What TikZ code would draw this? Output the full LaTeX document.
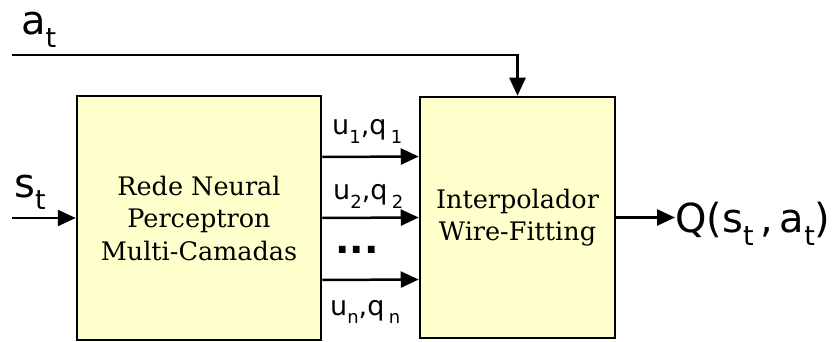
\documentclass[tikz,border=0pt]{standalone}
\usepackage{fontspec}
\usepackage{tikz}
\usetikzlibrary{arrows.meta,positioning,calc}
\newfontfamily\boxfont{DejaVu Serif}
\newfontfamily\lblfont{DejaVu Sans}
\definecolor{boxyellow}{RGB}{255,255,204}
\newcommand{\lsub}[2][27]{\raisebox{-.32em}{\fontsize{#1}{#1}\selectfont #2}}
\tikzset{
  block/.style={rectangle, draw=black, line width=2.5pt, fill=boxyellow, align=center, inner sep=0pt, font=\boxfont\fontsize{25.5}{32.5}\selectfont},
  flow/.style={line width=2.5pt, -{Triangle[length=18pt,width=16pt]}},
  biglbl/.style={inner sep=0pt, font=\lblfont\fontsize{40}{43}\selectfont},
  sigl/.style={inner sep=0pt, font=\lblfont\fontsize{27}{30}\selectfont}
}
\begin{document}
\begin{tikzpicture}[x=1pt,y=-1pt]
  \useasboundingbox (0,0) rectangle (833,342);
  % Blocks
  \node[block, minimum width=244pt, minimum height=244pt] (mlp) at (199,218) {Rede Neural\\Perceptron\\Multi-Camadas};
  \node[block, minimum width=195pt, minimum height=241pt] (wfi) at (517.5,217.5) {Interpolador\\Wire-Fitting};

  % Inputs and output
  \coordinate (ain) at (12,55);
  \coordinate (sin) at (12,218);
  \node[biglbl, anchor=base west] (alab) at (21,35) {a\lsub{t}};
  \node[biglbl, anchor=base west] (slab) at (14,197) {s\lsub{t}};
  \node[biglbl, anchor=base west] (qout) at (675,233) {Q(s\lsub{t}\,,\,a\lsub{t})};
  \draw[flow] (ain) -| (wfi.north);
  \draw[flow] (sin) -- (mlp.west);
  \draw[flow] (wfi.east) -- (wfi.east -| qout.west);

  % Signals between blocks
  \draw[flow] ([yshift=61pt]mlp.east) -- ([yshift=61pt]wfi.west);
  \draw[flow] (mlp.east) -- (wfi.west);
  \draw[flow] ([yshift=-62pt]mlp.east) -- ([yshift=-62pt]wfi.west);
  \node[sigl, anchor=base west] (s1) at (332,135) {u\lsub[18]{1},q\,\lsub[18]{1}};
  \node[sigl, anchor=base west] (s2) at (333,200) {u\lsub[18]{2},q\,\lsub[18]{2}};
  \node[sigl, font=\lblfont\fontsize{38}{40}\selectfont, anchor=base] (sdots) at (357,253) {\textbf{...}};
  \node[sigl, anchor=base west] (sn) at (330,315) {u\lsub[18]{n},q\,\lsub[18]{n}};
\end{tikzpicture}
\end{document}
